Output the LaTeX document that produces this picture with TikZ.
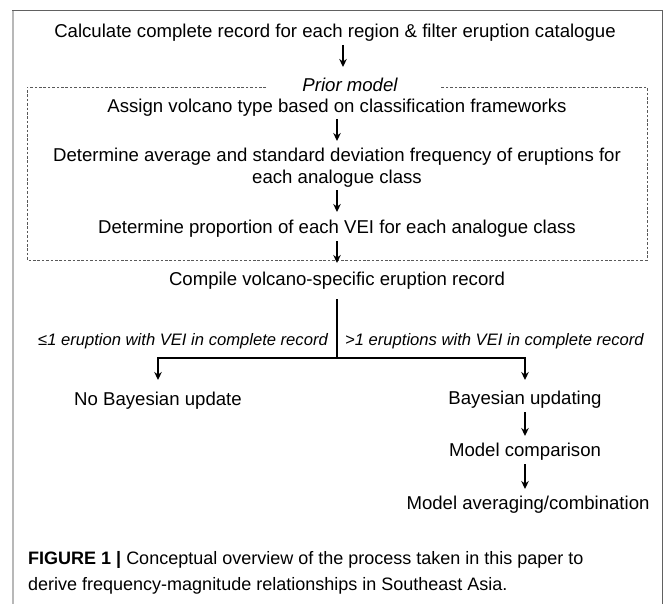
\documentclass[tikz,border=0pt]{standalone}
\usepackage{fontspec}
\setmainfont{Liberation Sans}
\usetikzlibrary{arrows.meta}
\begin{document}
\begin{tikzpicture}[x=1pt,y=-1pt,
  txt/.style={inner sep=0pt, font=\fontsize{18.6}{22}\selectfont, align=center, text height=13.5pt, text depth=4pt},
  txt2/.style={inner sep=0pt, font=\fontsize{18.6}{22}\selectfont, align=center},
  pml/.style={inner sep=0pt, font=\fontsize{18.6}{22}\selectfont\itshape, text height=13.5pt, text depth=4pt},
  lbl/.style={inner sep=0pt, font=\fontsize{16.6}{20}\selectfont\itshape, text height=12pt, text depth=3.5pt},
  capt/.style={inner sep=0pt, anchor=west, font=\fontsize{18}{22}\selectfont, text height=13pt, text depth=4pt},
  arr/.style={line width=1.8pt, -{Stealth[length=8pt,width=7.5pt]}},
  bar/.style={line width=1.8pt},
  dashbox/.style={draw=black!65, line width=0.9pt, dash pattern=on 2.6pt off 1.8pt}]
\useasboundingbox (0,0) rectangle (663,604);
% outer frame
\draw[black!28, line width=2.4pt] (13,604) -- (13,11);
\draw[black!62, line width=1pt] (12,11) -- (662,11) -- (662,604);
% nodes
\node[txt] (t1) at (335,33) {Calculate complete record for each region \& filter eruption catalogue};
\node[pml] (pm) at (350,87) {Prior model};
\node[txt] (a1) at (337,108) {Assign volcano type based on classification frameworks};
\node[txt2] (a2) at (337,168) {Determine average and standard deviation frequency of eruptions for\\each analogue class};
\node[txt] (a3) at (337,229) {Determine proportion of each VEI for each analogue class};
\node[txt] (c) at (337,281) {Compile volcano-specific eruption record};
\node[lbl, anchor=east] (l1) at (328,341) {≤1 eruption with VEI in complete record};
\node[lbl, anchor=west] (l2) at (345,341) {>1 eruptions with VEI in complete record};
\node[txt] (nb) at (158,401) {No Bayesian update};
\node[txt] (bu) at (525,400) {Bayesian updating};
\node[txt] (mc) at (525,452) {Model comparison};
\node[txt] (ma) at (528,505) {Model averaging/combination};
\node[capt] (cap1) at (28,560) {\textbf{FIGURE 1 |} Conceptual overview of the process taken in this paper to};
\node[capt] (cap2) at (28,586) {derive frequency-magnitude relationships in Southeast Asia.};
% dashed prior-model box
\draw[dashbox] (266,87) -| (27,260) -| (647,87) -- (440,87);
% connectors
\coordinate (j) at (337,358);
\draw[arr, shorten <=12pt, shorten >=20pt] ([xshift=8pt]t1.center) -- ([xshift=8pt]t1.center |- pm.center);
\draw[arr, shorten <=11pt, shorten >=27pt] (a1.center) -- (a2.center);
\draw[arr, shorten <=22pt, shorten >=17pt] (a2.center) -- (a3.center);
\draw[arr, shorten <=12pt, shorten >=18pt] (a3.center) -- (c.center);
\draw[bar, shorten <=18pt] (c.center) -- (j);
\draw[arr, shorten >=21pt] (j) -| (nb.center);
\draw[arr, shorten >=20pt] (j) -| (bu.center);
\draw[arr, shorten <=12pt, shorten >=16pt] (bu.center) -- (mc.center);
\draw[arr, shorten <=12pt, shorten >=16pt] (mc.center) -- ([xshift=-3pt]ma.center);
\end{tikzpicture}
\end{document}
